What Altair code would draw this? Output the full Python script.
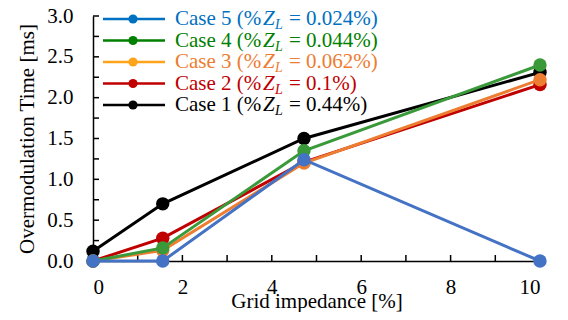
import altair as alt
import pandas as pd

# ---- data ----
grid_imp = [0.0, 1.56, 4.72, 10.0]
case1 = [0.12, 0.70, 1.50, 2.31]
case2 = [0.0, 0.28, 1.21, 2.16]
case3 = [0.0, 0.13, 1.20, 2.22]
case4 = [0.0, 0.16, 1.35, 2.40]
case5 = [0.0, 0.0, 1.24, 0.0]

cases = ["Case 1", "Case 2", "Case 3", "Case 4", "Case 5"]
zl_values = ["0.44%)", "0.1%)", "0.062%)", "0.044%)", "0.024%)"]
series = [case1, case2, case3, case4, case5]
line_colors = ["#000000", "#C00000", "#ED7D31", "#3A9A3A", "#4472C4"]
legend_line_colors = ["#000000", "#C00000", "#FFA31A", "#008000", "#0070C0"]
legend_text_colors = ["#000000", "#C00000", "#ED7D31", "#008000", "#0070C0"]

y_label_values = [0.0, 0.5, 1.0, 1.5, 2.0, 2.5, 3.0]
y_tick_values = [0.25, 0.5, 0.75, 1.0, 1.25, 1.5, 1.75, 2.0, 2.25, 2.5, 2.75, 3.0]
x_label_values = [0, 2, 4, 6, 8, 10]
x_tick_values = [1, 2, 3, 4, 5, 6, 7, 8, 9, 10]

FONT = "Liberation Serif"
FS = 21
W, H = 447, 245

xscale = alt.Scale(domain=[0, 10], nice=False, zero=False)
yscale = alt.Scale(domain=[0, 3], nice=False, zero=False)
xaxis = alt.Axis(values=x_label_values, format="d", ticks=False, grid=False,
                 labelPadding=15, titlePadding=-7, domainColor="black", domainWidth=1.5)
yaxis = alt.Axis(values=y_label_values, format=".1f", ticks=False, grid=False,
                 labelPadding=20, titlePadding=9, domainColor="black", domainWidth=1.5)


def X(field):
    return alt.X(field, scale=xscale, axis=xaxis, title="Grid impedance [%]")


def Y(field):
    return alt.Y(field, scale=yscale, axis=yaxis, title="Overmodulation Time [ms]")


layers = []
for i, (name, vals) in enumerate(zip(cases, series)):
    df = pd.DataFrame({"x": grid_imp, "y": vals, "col": line_colors[i], "case": name})
    base = alt.Chart(df)
    line = base.mark_line(strokeWidth=3).encode(x=X("x:Q"), y=Y("y:Q"),
                                                color=alt.Color("col:N", scale=None))
    pts = base.mark_circle(size=180, opacity=1).encode(x=X("x:Q"), y=Y("y:Q"),
                                                       color=alt.Color("col:N", scale=None))
    layers += [line, pts]

# inward ticks
ytk = alt.Chart(pd.DataFrame({"y": y_tick_values})).mark_rule(color="black", strokeWidth=1.5).encode(
    y=Y("y:Q"), x=alt.value(0), x2=alt.value(6))
xtk = alt.Chart(pd.DataFrame({"x": x_tick_values})).mark_rule(color="black", strokeWidth=1.5).encode(
    x=X("x:Q"), y=alt.value(H), y2=alt.value(H - 6))

main = alt.layer(ytk, xtk, *layers)

# ---- legend ----
leg = pd.DataFrame({
    "row": list(range(1, 6)),
    "a": [c + " (%" for c in cases],
    "z": ["Z"] * 5,
    "l": ["L"] * 5,
    "rest": ["= " + v for v in zl_values],
    "lc": legend_line_colors,
    "tc": legend_text_colors,
})
ry = alt.Y("row:O", scale=alt.Scale(type="point", domain=[5, 4, 3, 2, 1], range=[3, 89], padding=0), axis=None)
lb = alt.Chart(leg)
leg_line = lb.mark_rule(strokeWidth=2.5).encode(y=ry, x=alt.value(10), x2=alt.value(72),
                                                color=alt.Color("lc:N", scale=None))
leg_pt = lb.mark_circle(size=85, opacity=1).encode(y=ry, x=alt.value(40),
                                                   color=alt.Color("lc:N", scale=None))
tprops = dict(font=FONT, fontSize=FS, align="left", baseline="middle")
leg_a = lb.mark_text(**tprops).encode(y=ry, x=alt.value(82), text="a:N", color=alt.Color("tc:N", scale=None))
leg_z = lb.mark_text(fontStyle="italic", **tprops).encode(y=ry, x=alt.value(170), text="z:N",
                                                          color=alt.Color("tc:N", scale=None))
leg_l = lb.mark_text(font=FONT, fontSize=14, fontStyle="italic", align="left", baseline="middle", dy=6).encode(
    y=ry, x=alt.value(182), text="l:N", color=alt.Color("tc:N", scale=None))
leg_r = lb.mark_text(**tprops).encode(y=ry, x=alt.value(196), text="rest:N", color=alt.Color("tc:N", scale=None))
legend = alt.layer(leg_line, leg_pt, leg_a, leg_z, leg_l, leg_r)

chart = alt.layer(main, legend).resolve_scale(y="independent").properties(
    width=W, height=H,
    padding={"left": 85, "top": 8, "right": 20, "bottom": 51},
    autosize=alt.AutoSizeParams(type="none"),
).configure_view(stroke=None).configure_axis(
    labelFont=FONT, titleFont=FONT, labelFontSize=FS, titleFontSize=FS,
    titleFontWeight="normal", labelColor="black", titleColor="black",
)

chart.save("out.html", embed_options={"renderer": "svg", "actions": False})
